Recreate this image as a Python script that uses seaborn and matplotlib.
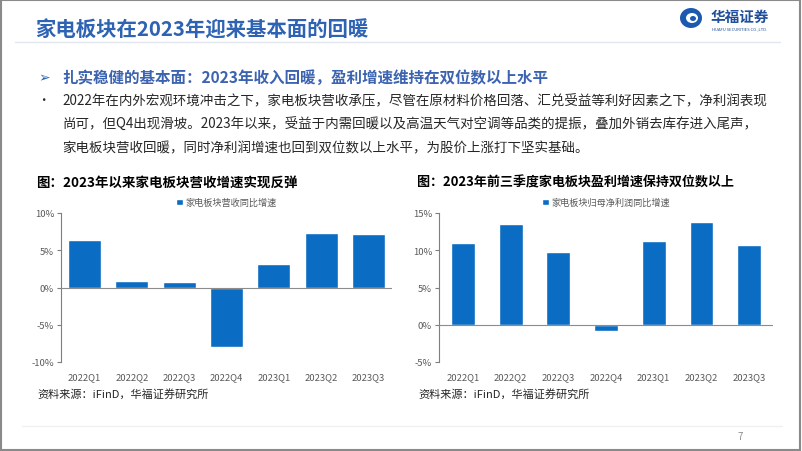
import matplotlib.pyplot as plt
import seaborn as sns
import pandas as pd
from matplotlib.ticker import PercentFormatter
from matplotlib.patches import Rectangle, Ellipse
from matplotlib.lines import Line2D

# 数据
quarters = ['2022Q1', '2022Q2', '2022Q3', '2022Q4', '2023Q1', '2023Q2', '2023Q3']
revenue_yoy = [6.4, 0.85, 0.7, -8.0, 3.1, 7.3, 7.2]
profit_yoy = [11.0, 13.5, 9.7, -0.9, 11.2, 13.8, 10.7]
revenue_label = '家电板块营收同比增速'
profit_label = '家电板块归母净利润同比增速'

page_title = '家电板块在2023年迎来基本面的回暖'
sub_title = '扎实稳健的基本面：2023年收入回暖，盈利增速维持在双位数以上水平'
body_lines = [
    '2022年在内外宏观环境冲击之下，家电板块营收承压，尽管在原材料价格回落、汇兑受益等利好因素之下，净利润表现',
    '尚可，但Q4出现滑坡。2023年以来，受益于内需回暖以及高温天气对空调等品类的提振，叠加外销去库存进入尾声，',
    '家电板块营收回暖，同时净利润增速也回到双位数以上水平，为股价上涨打下坚实基础。',
]
left_title = '图：2023年以来家电板块营收增速实现反弹'
right_title = '图：2023年前三季度家电板块盈利增速保持双位数以上'
source = '资料来源：iFinD，华福证券研究所'

# 样式
sns.set_style('white')
plt.rcParams['font.family'] = ['Noto Sans CJK SC', 'DejaVu Sans']
plt.rcParams['axes.unicode_minus'] = False

bar_color = '#0A6CC2'
blue_title = '#2E63B4'
gray_txt = '#595959'

W, H = 802, 452
fig = plt.figure(figsize=(W / 100, H / 100), dpi=100)


def fx(x):
    return x / W


def fy(y):
    return 1 - y / H


# 页面框架
fig.patches.append(Rectangle((0.001, 0.002), 0.997, 0.995, transform=fig.transFigure,
                             fill=False, edgecolor='#8a8a8a', lw=1.5))
fig.lines.append(Line2D([fx(15), fx(780)], [fy(43), fy(43)], transform=fig.transFigure,
                        color='#E1E6EE', lw=1))
fig.lines.append(Line2D([fx(22), fx(782)], [fy(427), fy(427)], transform=fig.transFigure,
                        color='#F0F0F0', lw=1))

fig.text(fx(35), fy(30), page_title, fontsize=14.7, fontweight='bold', color=blue_title, va='center')

# logo
fig.patches.append(Ellipse((fx(691), fy(19)), 22 / W, 20 / H, transform=fig.transFigure,
                           facecolor='#1B5AAE', edgecolor='none'))
fig.patches.append(Ellipse((fx(692), fy(19)), 12 / W, 10 / H, transform=fig.transFigure,
                           facecolor='white', edgecolor='none'))
fig.patches.append(Ellipse((fx(693), fy(19.5)), 6 / W, 5 / H, transform=fig.transFigure,
                           facecolor='#1B5AAE', edgecolor='none'))
fig.text(fx(711), fy(17), '华福证券', fontsize=10.5, fontweight='bold', color='#1F4E9A', va='center')
fig.text(fx(712), fy(29), 'HUAFU SECURITIES CO.,LTD.', fontsize=3, color='#1F4E9A', va='center')

# 正文
fig.text(fx(38), fy(78), '➢', fontsize=10, color=blue_title, va='center', family=['DejaVu Sans'])
fig.text(fx(62), fy(78), sub_title, fontsize=11.2, fontweight='bold', color='#3B63B0', va='center')
for i, line in enumerate(body_lines):
    y = 101 + i * 23.5
    if i == 0:
        fig.text(fx(37), fy(y), '•', fontsize=9, color='#262626', va='center')
    fig.text(fx(62), fy(y), line, fontsize=9.7, color='#262626', va='center')


def draw_chart(rect, vals, label, ylim, yticks, width):
    ax = fig.add_axes(rect)
    df = pd.DataFrame({'quarter': quarters, 'value': vals})
    sns.barplot(data=df, x='quarter', y='value', color=bar_color, saturation=1,
                width=width, label=label, ax=ax)
    ax.set_xlim(-0.5, len(quarters) - 0.5)
    ax.set_ylim(*ylim)
    ax.set_yticks(yticks)
    ax.yaxis.set_major_formatter(PercentFormatter(decimals=0))
    ax.axhline(0, color='#8c8c8c', lw=0.8, zorder=3)
    for s in ['top', 'right', 'bottom']:
        ax.spines[s].set_visible(False)
    ax.spines['left'].set_color('#7f7f7f')
    ax.spines['left'].set_linewidth(0.8)
    ax.tick_params(axis='y', left=True, length=3, width=0.8, color='#7f7f7f',
                   labelsize=6.8, labelcolor=gray_txt, pad=2)
    ax.tick_params(axis='x', bottom=False, length=0, labelsize=6.8, labelcolor=gray_txt, pad=7)
    ax.set_xlabel('')
    ax.set_ylabel('')
    ax.grid(False)
    ax.legend(loc='lower center', bbox_to_anchor=(0.5, 1.0), frameon=False, fontsize=6.6,
              labelcolor=gray_txt, handlelength=0.7, handleheight=0.7, handletextpad=0.3,
              borderaxespad=0.25)
    return ax


draw_chart([fx(61), fy(363), (392 - 61) / W, 149 / H], revenue_yoy, revenue_label,
           (-10, 10), [-10, -5, 0, 5, 10], 0.7)
draw_chart([fx(439), fy(363), (773 - 439) / W, 149 / H], profit_yoy, profit_label,
           (-5, 15), [-5, 0, 5, 10, 15], 0.5)

fig.text(fx(36), fy(183), left_title, fontsize=9.7, fontweight='bold', color='black', va='center')
fig.text(fx(417), fy(183), right_title, fontsize=9.4, fontweight='bold', color='black', va='center')
fig.text(fx(37), fy(394), source, fontsize=8, style='italic', color='#262626', va='center')
fig.text(fx(418), fy(394), source, fontsize=8, style='italic', color='#262626', va='center')

fig.text(fx(737), fy(437), '7', fontsize=7, color='#8c8c8c', va='center')

fig.savefig('out.png', dpi=100)
